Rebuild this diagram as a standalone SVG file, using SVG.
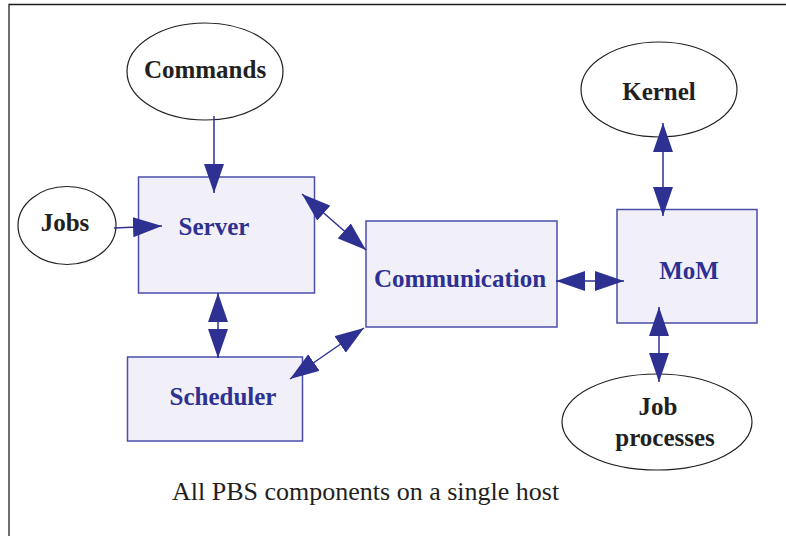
<svg xmlns="http://www.w3.org/2000/svg" width="786" height="536" viewBox="0 0 786 536">
<style>
.box{fill:#f1f0f8;stroke:#4b4daa;stroke-width:1.5}
.ell{fill:#ffffff;stroke:#231f20;stroke-width:1.2}
.bt{font-family:'Liberation Serif','DejaVu Serif',serif;font-weight:bold;font-size:25px;fill:#2e3192;text-anchor:middle}
.et{font-family:'Liberation Serif','DejaVu Serif',serif;font-weight:bold;font-size:25px;fill:#231f20;text-anchor:middle}
.cap{font-family:'Liberation Serif','DejaVu Serif',serif;font-size:26px;fill:#231f20}
.con{stroke:#2e3192;stroke-width:1.5;fill:none}
</style>
<defs>
<marker id="ah" markerUnits="userSpaceOnUse" markerWidth="30" markerHeight="20" refX="29" refY="10" orient="auto-start-reverse" viewBox="0 0 30 20">
<path d="M0,0 L29,10 L0,20 z" fill="#2e3192"/>
</marker>
</defs>
<rect width="786" height="536" fill="#ffffff"/>
<path d="M9,540 L9,4.5 L790,4.5" fill="none" stroke="#231f20" stroke-width="1.3"/>
<g id="commands"><ellipse class="ell" cx="205" cy="71.5" rx="78" ry="48.5"/><text class="et" x="205" y="78">Commands</text></g>
<g id="jobs"><ellipse class="ell" cx="67" cy="225.5" rx="49" ry="39"/><text class="et" x="65" y="231">Jobs</text></g>
<g id="server"><rect class="box" x="138.5" y="177" width="176" height="116"/><text class="bt" x="214" y="235">Server</text></g>
<g id="communication"><rect class="box" x="366" y="221" width="191" height="106"/><text class="bt" x="460" y="287">Communication</text></g>
<g id="scheduler"><rect class="box" x="127.5" y="357" width="175" height="84"/><text class="bt" x="223" y="405">Scheduler</text></g>
<g id="mom"><rect class="box" x="617" y="209.5" width="140" height="113.5"/><text class="bt" x="689" y="279">MoM</text></g>
<g id="kernel"><ellipse class="ell" cx="659" cy="89.5" rx="78" ry="47.5"/><text class="et" x="659" y="100">Kernel</text></g>
<g id="jobprocesses"><ellipse class="ell" cx="657" cy="422" rx="95" ry="48"/><text class="et" x="658" y="415">Job</text><text class="et" x="665" y="446">processes</text></g>
<g id="connectors">
<line class="con" x1="214" y1="116" x2="214" y2="193" marker-end="url(#ah)"/>
<line class="con" x1="114" y1="228" x2="162" y2="226" marker-end="url(#ah)"/>
<line class="con" x1="302" y1="194" x2="366" y2="250" marker-start="url(#ah)" marker-end="url(#ah)"/>
<line class="con" x1="556" y1="281" x2="624" y2="281" marker-start="url(#ah)" marker-end="url(#ah)"/>
<line class="con" x1="663" y1="123" x2="663" y2="216" marker-start="url(#ah)" marker-end="url(#ah)"/>
<line class="con" x1="659" y1="307" x2="659" y2="382" marker-start="url(#ah)" marker-end="url(#ah)"/>
<line class="con" x1="218" y1="293" x2="218" y2="358" marker-start="url(#ah)" marker-end="url(#ah)"/>
<line class="con" x1="290" y1="379" x2="364" y2="328" marker-start="url(#ah)" marker-end="url(#ah)"/>
</g>
<text class="cap" x="172" y="500">All PBS components on a single host</text>
</svg>
